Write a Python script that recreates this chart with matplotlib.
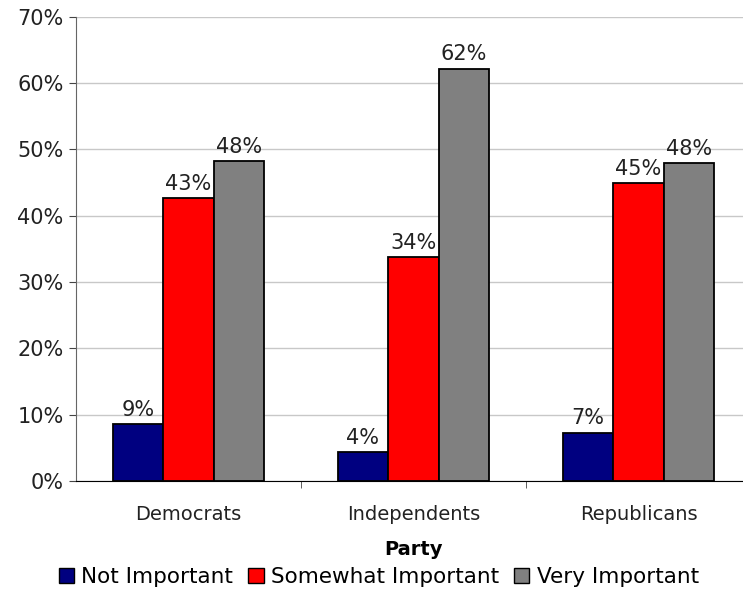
import matplotlib.pyplot as plt
import numpy as np
from matplotlib.patches import Patch

# data
parties = ["Democrats", "Independents", "Republicans"]
not_important = [8.6, 4.3, 7.3]
somewhat_important = [42.7, 33.8, 44.9]
very_important = [48.2, 62.2, 47.9]
series_names = ["Not Important", "Somewhat Important", "Very Important"]
colors = ["#000080", "#ff0000", "#808080"]

plt.rcParams["font.family"] = "DejaVu Sans"

fig = plt.figure(figsize=(7.43, 5.92), dpi=100)
ax = fig.add_axes([0.1023, 0.1875, 0.9085, 0.784])

x = np.arange(len(parties))
w = 0.225
series = [not_important, somewhat_important, very_important]
for i, vals in enumerate(series):
    pos = x + (i - 1) * w
    ax.bar(pos, vals, width=w, color=colors[i], edgecolor="black", linewidth=1.3, zorder=3)
    for px, v in zip(pos, vals):
        ax.annotate(f"{round(v):.0f}%", (px, v), xytext=(0, 3), textcoords="offset points",
                    ha="center", va="bottom", fontsize=15, color="#222222")

ax.set_xlim(-0.5, 2.5)
ax.set_ylim(0, 70)
ax.set_yticks(range(0, 71, 10))
ax.set_yticklabels([f"{t}%" for t in range(0, 71, 10)], fontsize=15, color="#222222")
ax.yaxis.grid(True, color="#c8c8c8", linewidth=1, zorder=0)
ax.set_xticks(x)
ax.set_xticklabels(parties, fontsize=14, color="#222222")
ax.set_xticks([0.5, 1.5], minor=True)
ax.tick_params(axis="x", which="major", length=0, pad=17)
ax.tick_params(axis="x", which="minor", length=5, color="#444444")
ax.tick_params(axis="y", length=5, color="#444444", pad=4)
for s in ["top", "right"]:
    ax.spines[s].set_visible(False)
ax.spines["left"].set_color("#666666")
ax.spines["bottom"].set_color("black")
ax.spines["bottom"].set_zorder(4)
ax.set_xlabel("Party", fontsize=14, fontweight="bold", labelpad=12)

handles = [Patch(facecolor=c, edgecolor="black", linewidth=1) for c in colors]
fig.legend(handles, series_names, loc="lower center", bbox_to_anchor=(0.51, -0.025), ncol=3,
           frameon=False, fontsize=15.5, handlelength=0.7, handleheight=0.7,
           handletextpad=0.35, columnspacing=0.7)

fig.savefig("out.png", dpi=100)
